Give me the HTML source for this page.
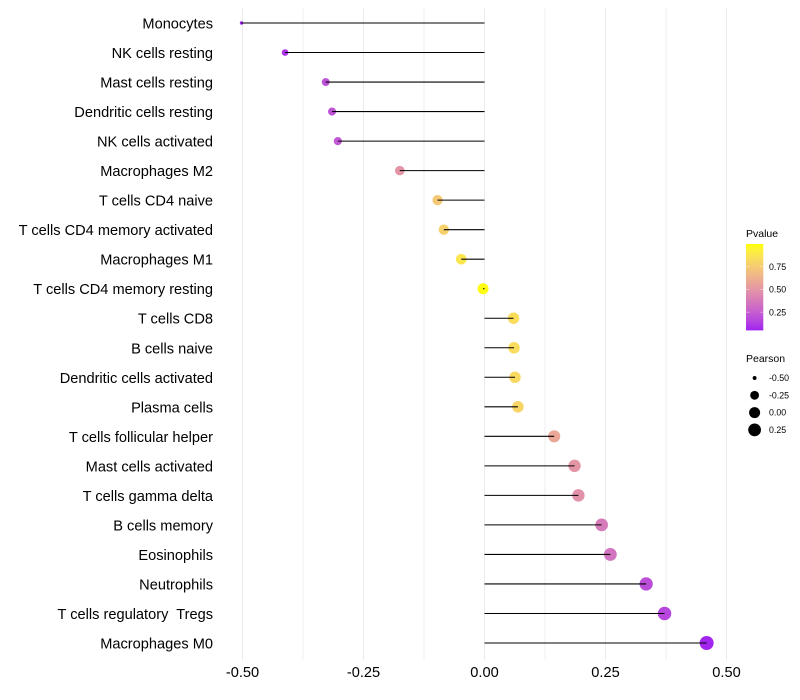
<!DOCTYPE html>
<html lang="en">
<head>
<meta charset="utf-8">
<title>Immune cell correlation lollipop chart</title>
<style>
html,body{margin:0;padding:0;background:#fff;}
svg{display:block;font-family:"Liberation Sans",sans-serif;}
</style>
</head>
<body>
<svg id="chart" width="800" height="700" viewBox="0 0 800 700" xmlns="http://www.w3.org/2000/svg">
<defs>
<linearGradient id="pGrad" x1="0" y1="1" x2="0" y2="0"></linearGradient>
</defs>
</svg>
<script>
const categories = ["Monocytes","NK cells resting","Mast cells resting","Dendritic cells resting","NK cells activated","Macrophages M2","T cells CD4 naive","T cells CD4 memory activated","Macrophages M1","T cells CD4 memory resting","T cells CD8","B cells naive","Dendritic cells activated","Plasma cells","T cells follicular helper","Mast cells activated","T cells gamma delta","B cells memory","Eosinophils","Neutrophils","T cells regulatory  Tregs","Macrophages M0"];
const pearson = [-0.502,-0.412,-0.328,-0.315,-0.303,-0.175,-0.097,-0.084,-0.048,-0.003,0.060,0.061,0.063,0.069,0.144,0.186,0.194,0.242,0.260,0.334,0.372,0.459];
const pvalue = [0.05,0.10,0.20,0.21,0.23,0.50,0.74,0.78,0.88,0.99,0.84,0.83,0.82,0.80,0.58,0.50,0.48,0.38,0.35,0.19,0.16,0.06];
const xTicks = [-0.5,-0.25,0,0.25,0.5];
const xMinorGrid = [-0.375,-0.125,0.125,0.375];
const pTicks = [0.25,0.5,0.75];
const sizeBreaks = [-0.5,-0.25,0,0.25];

const NS = "http://www.w3.org/2000/svg";
const svg = document.getElementById("chart");
function xScale(v){ return 484.5 + v * 484; }
function yScale(i){ return 23 + i * (620 / (categories.length - 1)); }
function rScale(v){ return 1.7 + 5.3 * Math.sqrt(Math.max(0, (v + 0.502) / 0.961)); }
function pY(p){ return 289.4 - (p - 0.5) * 91; }

const labLow = [45.4, 78.4, -77.4];
const labHigh = [97.1, -21.6, 94.5];
const pMin = 0.05;
function labToRgb(L, a, b){
  const fy = (L + 16) / 116, fx = fy + a / 500, fz = fy - b / 200;
  const g = t => t > 6/29 ? t*t*t : 3*(6/29)*(6/29)*(t - 4/29);
  const X = 0.95047 * g(fx), Y = g(fy), Z = 1.08883 * g(fz);
  const lin = [
    3.2406*X - 1.5372*Y - 0.4986*Z,
    -0.9689*X + 1.8758*Y + 0.0415*Z,
    0.0557*X - 0.2040*Y + 1.0570*Z
  ];
  const out = lin.map(c => {
    c = Math.min(1, Math.max(0, c));
    return Math.round(255 * (c <= 0.0031308 ? 12.92*c : 1.055*Math.pow(c, 1/2.4) - 0.055));
  });
  return "rgb(" + out.join(",") + ")";
}
function pColor(p){
  const t = Math.min(1, Math.max(0, (p - pMin) / (1 - pMin)));
  return labToRgb(
    labLow[0] + (labHigh[0] - labLow[0]) * t,
    labLow[1] + (labHigh[1] - labLow[1]) * t,
    labLow[2] + (labHigh[2] - labLow[2]) * t
  );
}
const grad = document.getElementById("pGrad");
for (let k = 0; k <= 20; k++) {
  const st = document.createElementNS(NS, "stop");
  st.setAttribute("offset", k / 20);
  st.setAttribute("stop-color", pColor(pMin + (1 - pMin) * k / 20));
  grad.appendChild(st);
}

function make(tag, attrs, text){
  const el = document.createElementNS(NS, tag);
  for (const k in attrs) el.setAttribute(k, attrs[k]);
  if (text !== undefined) { el.textContent = text; el.style.whiteSpace = "pre"; }
  svg.appendChild(el);
  return el;
}
function fmt(v){ return v.toFixed(2); }

xMinorGrid.forEach(v => {
  const el = make("line", {x1:xScale(v), x2:xScale(v), y1:8, y2:660, stroke:"#ebebeb", "stroke-width":0.8});
  
  
});
xTicks.forEach(v => {
  const el = make("line", {x1:xScale(v), x2:xScale(v), y1:8, y2:660, stroke:"#ebebeb", "stroke-width":1});
  
  
});

xTicks.forEach(v => {
  const el = make("text", {x:xScale(v), y:677, "text-anchor":"middle", "font-size":14.6, fill:"#000"}, fmt(v));
  
  
});

categories.forEach((c, i) => {
  const el = make("text", {x:213, y:yScale(i) + 5.5, "text-anchor":"end", "font-size":14.6, fill:"#000"}, c);
  
  
});

pearson.forEach((v, i) => {
  const dot = make("circle", {cx:xScale(v), cy:yScale(i), r:rScale(v), fill:pColor(pvalue[i])});
  
  
  const stem = make("line", {x1:xScale(0), x2:xScale(v), y1:yScale(i), y2:yScale(i), stroke:"#000", "stroke-width":1.05});
  
  
});

const pTitle = make("text", {x:746, y:237, "font-size":10.5, fill:"#000"}, "Pvalue");


const bar = make("rect", {x:746, y:244, width:17.3, height:86.4, fill:"url(#pGrad)"});


pTicks.forEach(p => {
  const t1 = make("line", {x1:746, x2:749.5, y1:pY(p), y2:pY(p), stroke:"#fff", "stroke-opacity":0.6, "stroke-width":0.6});
  
  
  const t2 = make("line", {x1:759.8, x2:763.3, y1:pY(p), y2:pY(p), stroke:"#fff", "stroke-opacity":0.6, "stroke-width":0.6});
  
  
  const lb = make("text", {x:769, y:pY(p) + 3.1, "font-size":8.8, fill:"#000"}, fmt(p));
  
  
});

const sTitle = make("text", {x:746, y:362, "font-size":10.5, fill:"#000"}, "Pearson");


sizeBreaks.forEach((b, i) => {
  const cy = 378 + i * 17.3;
  const dot = make("circle", {cx:754.6, cy:cy, r:rScale(b), fill:"#000"});
  
  
  const lb = make("text", {x:769, y:cy + 3.1, "font-size":8.8, fill:"#000"}, fmt(b));
  
  
});
</script>
</body>
</html>
